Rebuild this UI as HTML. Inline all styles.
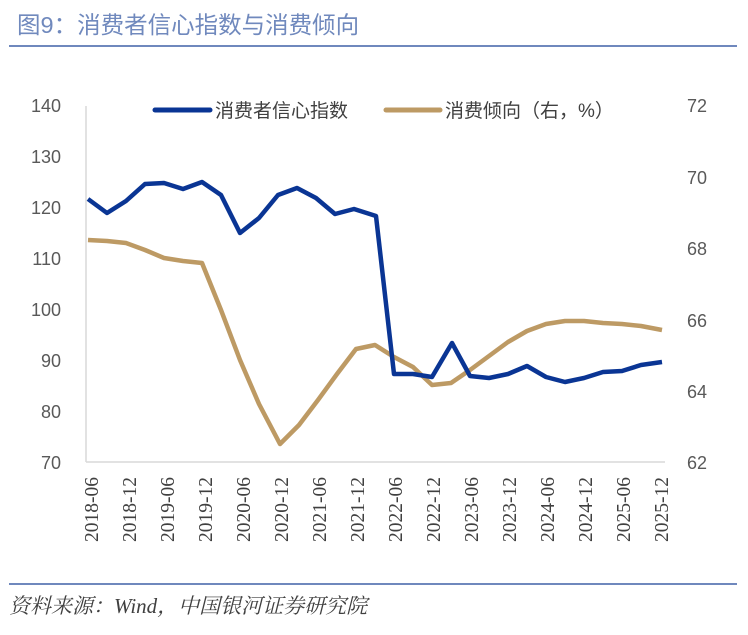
<!DOCTYPE html>
<html><head><meta charset="utf-8"><style>
body{margin:0;background:#fff;width:748px;height:630px;overflow:hidden}
</style></head><body>
<svg width="748" height="630" xmlns="http://www.w3.org/2000/svg">
<text x="17" y="33" font-family="Liberation Sans, Noto Sans CJK SC, sans-serif" font-size="23.5" fill="#7089bd">图9：消费者信心指数与消费倾向</text>
<line x1="9" y1="46" x2="737" y2="46" stroke="#6f88bd" stroke-width="2"/>
<line x1="86" y1="106" x2="86" y2="462" stroke="#d9d9d9" stroke-width="1.5"/>
<line x1="86" y1="462" x2="665" y2="462" stroke="#d9d9d9" stroke-width="1.5"/>
<g font-family="Liberation Sans, sans-serif" font-size="18" fill="#595959" text-anchor="end">
<text x="61" y="112">140</text><text x="61" y="163">130</text><text x="61" y="214">120</text><text x="61" y="265">110</text><text x="61" y="316">100</text><text x="61" y="367">90</text><text x="61" y="418">80</text><text x="61" y="469">70</text>
</g>
<g font-family="Liberation Sans, sans-serif" font-size="18" fill="#595959" text-anchor="middle">
<text x="697" y="112">72</text><text x="697" y="184">70</text><text x="697" y="255">68</text><text x="697" y="327">66</text><text x="697" y="398">64</text><text x="697" y="469">62</text>
</g>
<g font-family="Liberation Serif, serif" font-size="19.5" fill="#404040" text-anchor="end">
<text transform="translate(98,477) rotate(-90)">2018-06</text>
<text transform="translate(136,477) rotate(-90)">2018-12</text>
<text transform="translate(174,477) rotate(-90)">2019-06</text>
<text transform="translate(212,477) rotate(-90)">2019-12</text>
<text transform="translate(250,477) rotate(-90)">2020-06</text>
<text transform="translate(288,477) rotate(-90)">2020-12</text>
<text transform="translate(326,477) rotate(-90)">2021-06</text>
<text transform="translate(364,477) rotate(-90)">2021-12</text>
<text transform="translate(402,477) rotate(-90)">2022-06</text>
<text transform="translate(440,477) rotate(-90)">2022-12</text>
<text transform="translate(478,477) rotate(-90)">2023-06</text>
<text transform="translate(516,477) rotate(-90)">2023-12</text>
<text transform="translate(554,477) rotate(-90)">2024-06</text>
<text transform="translate(592,477) rotate(-90)">2024-12</text>
<text transform="translate(630,477) rotate(-90)">2025-06</text>
<text transform="translate(668,477) rotate(-90)">2025-12</text>
</g>
<polyline fill="none" stroke="#bd9a64" stroke-width="4.5" stroke-linejoin="round" points="88,240 107,241 126,243 145,250 164,258 183,261 202,263 221,310 240,360 259,404 280,444 299,425 318,400 337,374 356,349 375,345 394,357 413,367 432,385 451,383 470,370 489,356 508,342 527,331 546,324 565,321 584,321 603,323 622,324 641,326 662,330"/>
<polyline fill="none" stroke="#0a3594" stroke-width="4.5" stroke-linejoin="round" points="88,199 107,213 126,201 145,184 164,183 183,189 202,182 221,195 240,233 259,218 278,195 297,188 316,198 335,214 354,209 376,216 394,374 413,374 432,377 452,343 470,376 489,378 508,374 527,366 546,377 565,382 584,378 603,372 622,371 641,365 662,362"/>
<line x1="155" y1="110" x2="210" y2="110" stroke="#0a3594" stroke-width="5" stroke-linecap="round"/>
<text x="215" y="117" font-family="Liberation Sans, Noto Sans CJK SC, sans-serif" font-size="19" fill="#404040">消费者信心指数</text>
<line x1="386" y1="110" x2="440" y2="110" stroke="#bd9a64" stroke-width="5" stroke-linecap="round"/>
<text x="445" y="117" font-family="Liberation Sans, Noto Sans CJK SC, sans-serif" font-size="19" fill="#404040">消费倾向（右，%）</text>
<line x1="9" y1="584" x2="737" y2="584" stroke="#6f88bd" stroke-width="2"/>
<text x="9" y="613" font-family="Liberation Serif, Noto Serif CJK SC, serif" font-size="21" font-style="italic" fill="#404040">资料来源：Wind，中国银河证券研究院</text>
</svg>
</body></html>
